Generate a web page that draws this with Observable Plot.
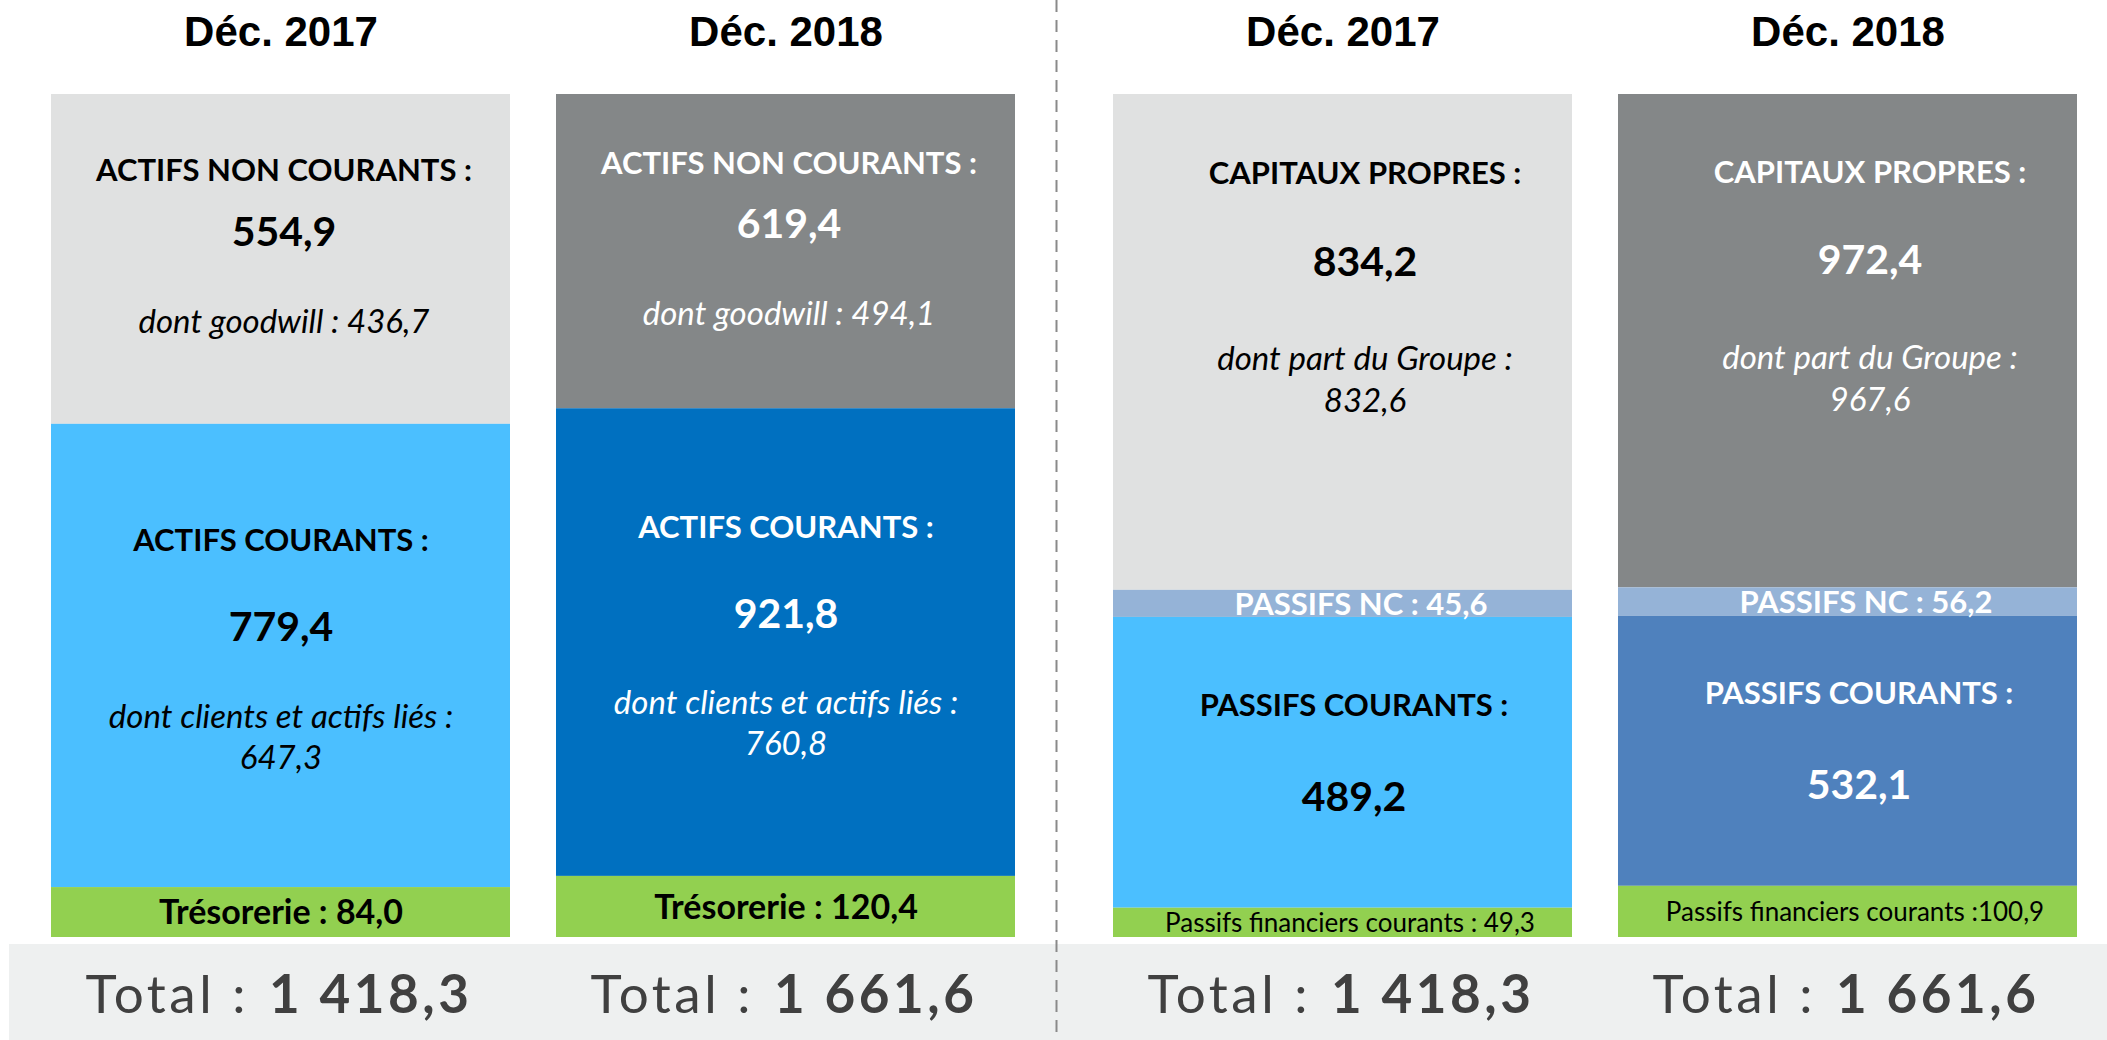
<!DOCTYPE html>
<html><head><meta charset="utf-8">
<script src="https://cdn.jsdelivr.net/npm/d3@7"></script>
<script src="https://cdn.jsdelivr.net/npm/@observablehq/plot@0.6"></script>
<style>
html,body{margin:0;padding:0;background:#fff;overflow:hidden;}
#wrap{position:relative;width:2107px;height:1040px;overflow:hidden;}
#band{position:absolute;left:9px;right:0;top:944px;bottom:0;background:#eef0f0;}
#chart{position:absolute;left:0;top:0;}
</style></head><body>
<div id="wrap"><div id="band"></div><div id="chart"></div></div>
<script>
// ---------- Données ----------
const colonnes = ["Déc. 2017", "Déc. 2018"];
const cotes = ["Actif", "Passif"];
const postesActif = ["ACTIFS NON COURANTS", "ACTIFS COURANTS", "Trésorerie"];
const actif2017 = [554.9, 779.4, 84.0];
const actif2018 = [619.4, 921.8, 120.4];
const postesPassif = ["CAPITAUX PROPRES", "PASSIFS NC", "PASSIFS COURANTS", "Passifs financiers courants"];
const passif2017 = [834.2, 45.6, 489.2, 49.3];
const passif2018 = [972.4, 56.2, 532.1, 100.9];
const dontGoodwill = [436.7, 494.1];
const dontClients = [647.3, 760.8];
const dontPartGroupe = [832.6, 967.6];
const totaux = [1418.3, 1661.6];

// ---------- Styles ----------
const couleurs = {
  "ACTIFS NON COURANTS": ["#e0e1e1", "#848788"],
  "CAPITAUX PROPRES": ["#e0e1e1", "#848788"],
  "ACTIFS COURANTS": ["#4bbfff", "#0070c0"],
  "PASSIFS COURANTS": ["#4bbfff", "#4f81bd"],
  "PASSIFS NC": ["#95b3d7", "#95b3d7"],
  "Trésorerie": ["#92d050", "#92d050"],
  "Passifs financiers courants": ["#92d050", "#92d050"]
};
const couleursTexte = {
  "ACTIFS NON COURANTS": ["#000", "#fff"],
  "CAPITAUX PROPRES": ["#000", "#fff"],
  "ACTIFS COURANTS": ["#000", "#fff"],
  "PASSIFS COURANTS": ["#000", "#fff"],
  "PASSIFS NC": ["#fff", "#fff"],
  "Trésorerie": ["#000", "#000"],
  "Passifs financiers courants": ["#000", "#000"]
};

const loc = d3.formatLocale({decimal: ",", thousands: " ", grouping: [3], currency: ["", ""]});
const fmt = loc.format(",.1f");

// ---------- Segments (empilement normalisé, du haut vers le bas) ----------
const segments = [];
function empiler(side, postes, valeurs, i) {
  const total = d3.sum(valeurs);
  let cum = 0;
  postes.forEach((p, k) => {
    const v = valeurs[k];
    const y2 = 1 - cum / total;
    cum += v;
    const y1 = 1 - cum / total;
    segments.push({side, col: colonnes[i], i, poste: p, value: v, y1, y2, mid: (y1 + y2) / 2,
      fill: couleurs[p][i], textColor: couleursTexte[p][i]});
  });
}
empiler("Actif", postesActif, actif2017, 0);
empiler("Actif", postesActif, actif2018, 1);
empiler("Passif", postesPassif, passif2017, 0);
empiler("Passif", postesPassif, passif2018, 1);

const sTitre = {fontSize: 31, fontWeight: "bold"};
const sValeur = {fontSize: 41, fontWeight: "bold"};
const sDont = {fontSize: 33, fontStyle: "italic"};

const gabarits = {
  "ACTIFS NON COURANTS": {dx: 3, lignes: [
    {t: d => "ACTIFS NON COURANTS :", dy: -88, s: sTitre},
    {t: d => fmt(d.value), dy: -27, s: sValeur},
    {t: d => "dont goodwill : " + fmt(dontGoodwill[d.i]), dy: 63, s: sDont}]},
  "ACTIFS COURANTS": {dx: 0, lignes: [
    {t: d => "ACTIFS COURANTS :", dy: -115, s: sTitre},
    {t: d => fmt(d.value), dy: -28, s: sValeur},
    {t: d => "dont clients et actifs liés :", dy: 61, s: sDont},
    {t: d => fmt(dontClients[d.i]), dy: 102, s: sDont}]},
  "Trésorerie": {dx: 0, lignes: [
    {t: d => "Trésorerie : " + fmt(d.value), dy: 1, s: {fontSize: 34, fontWeight: "bold"}}]},
  "CAPITAUX PROPRES": {dx: 22, lignes: [
    {t: d => "CAPITAUX PROPRES :", dy: -168, s: sTitre},
    {t: d => fmt(d.value), dy: -80, s: sValeur},
    {t: d => "dont part du Groupe :", dy: 17, s: sDont},
    {t: d => fmt(dontPartGroupe[d.i]), dy: 59, s: sDont}]},
  "PASSIFS NC": {dx: 18, lignes: [
    {t: d => "PASSIFS NC : " + fmt(d.value), dy: 1, s: {fontSize: 31, fontWeight: "bold"}}]},
  "PASSIFS COURANTS": {dx: 11, lignes: [
    {t: d => "PASSIFS COURANTS :", dy: -57, s: sTitre},
    {t: d => fmt(d.value), dy: 35, s: sValeur}]},
  "Passifs financiers courants": {dx: 7, lignes: [
    {t: d => d.i === 0 ? "Passifs financiers courants : " + fmt(d.value) : "Passifs financiers courants :" + fmt(d.value), dy: 1, s: {fontSize: 26}}]}
};

const marquesTexte = [];
for (const [poste, g] of Object.entries(gabarits)) {
  const data = segments.filter(d => d.poste === poste);
  for (const l of g.lignes) {
    marquesTexte.push(Plot.text(data, {fx: "side", x: "col", y: "mid", text: l.t, dy: l.dy, dx: g.dx,
      fill: "textColor", fontFamily: "Lato", ...l.s}));
  }
}

const entetes = cotes.flatMap(s => colonnes.map(c => ({side: s, col: c})));
const lignesTotal = cotes.flatMap(s => colonnes.map((c, i) => ({side: s, col: c, total: totaux[i]})));

const plot = Plot.plot({
  width: 2107, height: 1040,
  marginTop: 94, marginBottom: 103, marginLeft: 51, marginRight: 28,
  fx: {domain: cotes, paddingInner: 0.091, paddingOuter: 0, axis: null, label: null},
  x: {domain: colonnes, paddingInner: 0.091, paddingOuter: 0, axis: null, label: null},
  y: {domain: [0, 1], axis: null},
  color: {type: "identity"},
  style: {background: "transparent", fontFamily: "Lato"},
  marks: [
    Plot.barY(segments, {fx: "side", x: "col", y1: "y1", y2: "y2", fill: "fill"}),
    ...marquesTexte,
    Plot.text(entetes, {fx: "side", x: "col", text: "col", frameAnchor: "top", dy: -78,
      fontSize: 42, fontWeight: "bold", fontFamily: "Liberation Sans", fill: "#000"}),
    Plot.text(lignesTotal, {fx: "side", x: "col", text: d => "Total :", frameAnchor: "bottom", dy: 75, dx: -32,
      textAnchor: "end", fontSize: 53, fontFamily: "Lato", fill: "#404040"}),
    Plot.text(lignesTotal, {fx: "side", x: "col", text: d => fmt(d.total), frameAnchor: "bottom", dy: 75, dx: -12,
      textAnchor: "start", fontSize: 53, fontWeight: "bold", fontFamily: "Lato", fill: "#404040"})
  ]
});
document.getElementById("chart").appendChild(plot);

// espacement des lettres des totaux
const textesTotaux = new Set(["Total :", ...totaux.map(fmt)]);
d3.select(plot).selectAll("text")
  .filter(function() { return textesTotaux.has(this.textContent); })
  .attr("letter-spacing", "3.5px");

// séparateur pointillé entre Actif et Passif
const fxs = plot.scale("fx");
const xSep = (fxs.apply("Actif") + fxs.bandwidth + fxs.apply("Passif")) / 2 - 8;
d3.select(plot).append("line")
  .attr("x1", xSep).attr("x2", xSep).attr("y1", 0).attr("y2", 1040)
  .attr("stroke", "#8a8a8a").attr("stroke-width", 2).attr("stroke-dasharray", "12,8");
</script>
</body></html>
